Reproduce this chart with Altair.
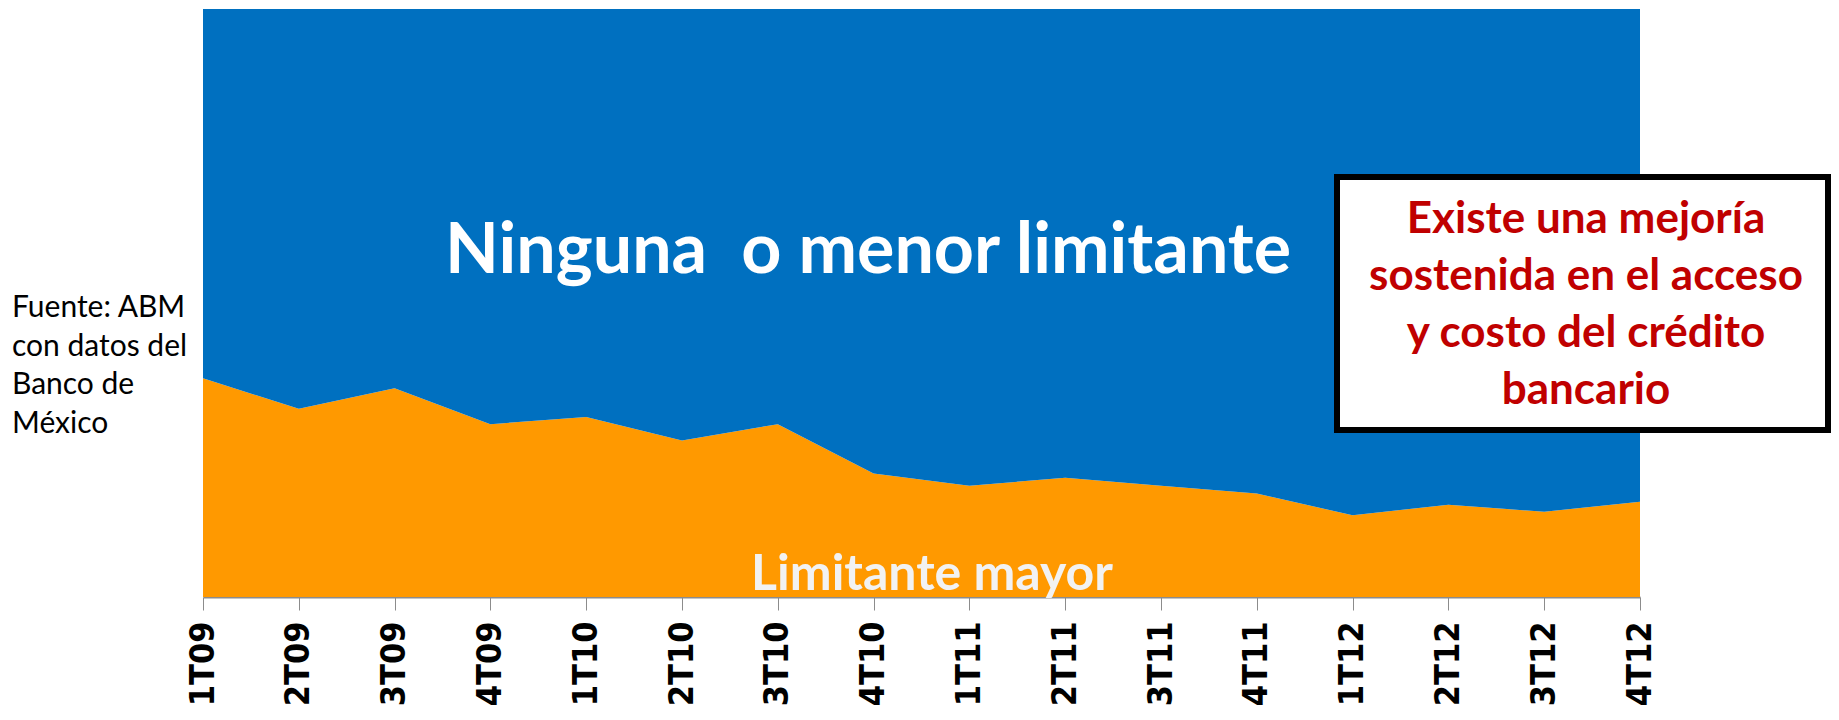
import altair as alt
import pandas as pd

quarters = ["1T09", "2T09", "3T09", "4T09", "1T10", "2T10", "3T10", "4T10",
            "1T11", "2T11", "3T11", "4T11", "1T12", "2T12", "3T12", "4T12"]
limitante_mayor = [37.2, 32.0, 35.5, 29.4, 30.6, 26.6, 29.4, 21.0,
                   18.9, 20.3, 18.9, 17.6, 13.9, 15.7, 14.5, 16.2]
ninguna_menor = [62.8, 68.0, 64.5, 70.6, 69.4, 73.4, 70.6, 79.0,
                 81.1, 79.7, 81.1, 82.4, 86.1, 84.3, 85.5, 83.8]
series_names = ["Limitante mayor", "Ninguna o menor limitante"]
series_colors = ["#ff9900", "#0070c0"]

source_lines = ["Fuente: ABM", "con datos del", "Banco de", "México"]
box_lines = ["Existe una mejoría", "sostenida en el acceso",
             "y costo del crédito", "bancario"]
label_top = "Ninguna\u00a0 o menor limitante"
label_bottom = "Limitante mayor"

rows = []
for i, q in enumerate(quarters):
    rows.append({"q": q, "serie": series_names[0], "v": limitante_mayor[i], "ord": 0})
    rows.append({"q": q, "serie": series_names[1], "v": ninguna_menor[i], "ord": 1})
df = pd.DataFrame(rows)

W, H = 1437, 588

area = alt.Chart(df).mark_area(interpolate="linear", opacity=1).encode(
    x=alt.X("q:O", sort=quarters, scale=alt.Scale(padding=0),
            axis=alt.Axis(title=None, labelAngle=270,
                          labelFont="'DejaVu Sans Condensed', 'DejaVu Sans'",
                          labelFontWeight="bold", labelFontSize=34,
                          labelColor="#000000", labelPadding=11,
                          labelOverlap=False, labelFlush=False, labelBound=False,
                          tickSize=13, tickColor="#8c8c8c", tickWidth=1,
                          domainColor="#8c8c8c", domainWidth=2)),
    y=alt.Y("v:Q", stack="zero", scale=alt.Scale(domain=[0, 100], nice=False),
            axis=None),
    color=alt.Color("serie:N", scale=alt.Scale(domain=series_names, range=series_colors),
                    legend=None),
    order=alt.Order("ord:Q"),
)

one = pd.DataFrame({"k": [0]})

t_top = alt.Chart(one).mark_text(
    text=label_top, font="Lato", fontWeight="bold", fontSize=70, color="#ffffff",
    align="center", baseline="alphabetic", x=665, y=264)
t_bot = alt.Chart(one).mark_text(
    text=label_bottom, font="Lato", fontWeight="bold", fontSize=50, color="#f2f2f2",
    align="center", baseline="alphabetic", x=729, y=581)
t_src = alt.Chart(one).mark_text(
    text=source_lines, font="Lato", fontSize=30, color="#000000", lineHeight=38.5,
    align="left", baseline="alphabetic", x=-191, y=308)
box = alt.Chart(one).mark_rect(fill="#ffffff", stroke="#000000", strokeWidth=6).encode(
    x=alt.value(1134), x2=alt.value(1625), y=alt.value(168), y2=alt.value(421))
t_box = alt.Chart(one).mark_text(
    text=box_lines, font="Lato", fontWeight="bold", fontSize=44, color="#c00000",
    lineHeight=57, align="center", baseline="alphabetic", x=1383, y=224)

chart = alt.layer(area, t_top, t_bot, t_src, box, t_box).properties(
    width=W, height=H,
    autosize=alt.AutoSizeParams(type="none"),
    padding={"left": 195, "top": 1, "right": 191, "bottom": 113},
).configure_view(stroke=None)

chart.save("out.html", embed_options={"renderer": "svg", "actions": False})
